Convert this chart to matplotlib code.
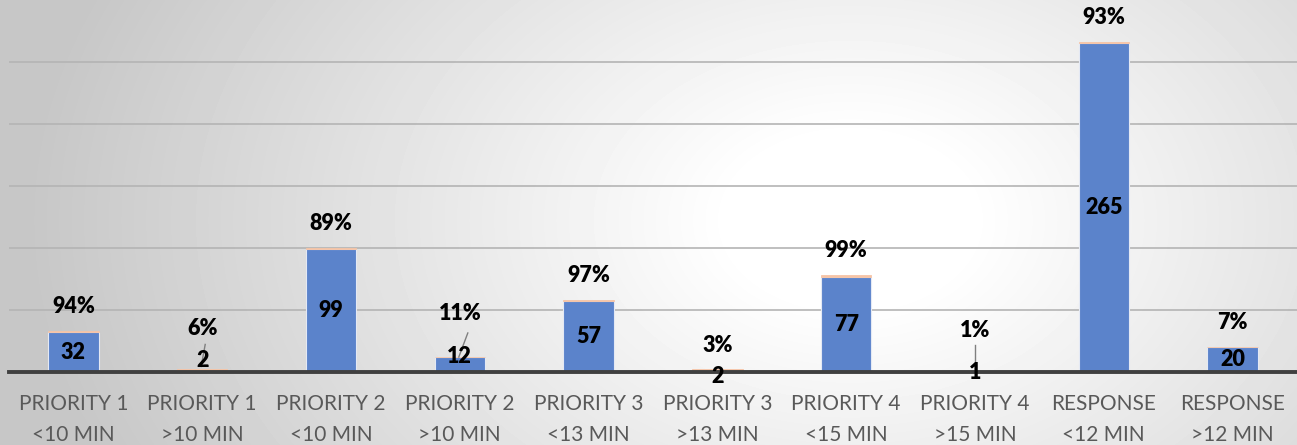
import numpy as np
import matplotlib.pyplot as plt

# chart data
categories = ["PRIORITY 1\n<10 MIN", "PRIORITY 1\n>10 MIN", "PRIORITY 2\n<10 MIN", "PRIORITY 2\n>10 MIN",
              "PRIORITY 3\n<13 MIN", "PRIORITY 3\n>13 MIN", "PRIORITY 4\n<15 MIN", "PRIORITY 4\n>15 MIN",
              "RESPONSE\n<12 MIN", "RESPONSE\n>12 MIN"]
counts = [32, 2, 99, 12, 57, 2, 77, 1, 265, 20]
percents = [94, 6, 89, 11, 97, 3, 99, 1, 93, 7]

plt.rcParams['font.family'] = ['Lato', 'DejaVu Sans']

fig = plt.figure(figsize=(12.97, 4.45), dpi=100)

# radial grey background
bg = fig.add_axes([0, 0, 1, 1])
yy, xx = np.mgrid[0:445, 0:1297]
d = np.sqrt(((xx - 850) / 1.0) ** 2 + ((yy - 220) / 0.7) ** 2)
shade = 1.0 - np.clip((d - 120) / 700, 0, 1) * 0.22
bg.imshow(shade, cmap='gray', vmin=0, vmax=1, aspect='auto', interpolation='bilinear')
bg.axis('off')

ax = fig.add_axes([9 / 1297, 73 / 445, 1 - 9 / 1297, 1 - 73 / 445])
ax.set_facecolor('none')

x = np.arange(len(categories))
pct_frac = [p / 100 for p in percents]
w = 0.39
ax.bar(x, counts, width=w, color='#5b83cb', edgecolor='#e4e9f4', linewidth=0.8, zorder=3)
ax.bar(x, pct_frac, bottom=counts, width=w, color='#f6c4a6', edgecolor='#f6c4a6', linewidth=0.6, zorder=3)

ax.set_ylim(0, 300)
ax.set_xlim(-0.5, len(categories) - 0.5)
ax.set_yticks([50, 100, 150, 200, 250])
ax.yaxis.grid(True, color='#b4b4b4', linewidth=1.2, zorder=0)
ax.set_yticklabels([])
ax.tick_params(axis='y', length=0)
ax.axhline(0, color='#404040', linewidth=2.8, zorder=4, clip_on=False)
for s in ax.spines.values():
    s.set_visible(False)

ax.set_xticks(x)
ax.set_xticklabels(categories, color='#595959', fontsize=15, linespacing=1.65)
ax.tick_params(axis='x', length=0, pad=16)

# count labels: centred in bar, small ones nudged (pixels)
count_shift = [0, 10, 0, 8, 0, -6, 0, -1, 0, 0]
for i, c in enumerate(counts):
    ax.annotate(str(c), (x[i], c / 2), xytext=(0, count_shift[i] * 0.72), textcoords='offset points',
                ha='center', va='center', fontsize=15.5, fontweight='heavy', zorder=6)

# percent labels above the bar (pixels above bar top)
pct_shift = [25, 41, 25, 43, 25, 24, 25, 40, 25, 25]
for i, p in enumerate(percents):
    top = counts[i] + pct_frac[i]
    ax.annotate(f"{p}%", (x[i], top), xytext=(0, pct_shift[i] * 0.72), textcoords='offset points',
                ha='center', va='center', fontsize=15.5, fontweight='heavy', zorder=6)

# leader lines for the small bars (pixel offsets from bar top)
leaders = {1: (3, 25, -1, 3), 3: (8, 24, -1, 0), 7: (0, 26, 0, 2)}
for i, (dx, y0, dx1, y1) in leaders.items():
    top = counts[i] + pct_frac[i]
    ax.plot([x[i] + dx / 128.8, x[i] + dx1 / 128.8],
            [top + y0 / 1.24, top + y1 / 1.24], color='#7f7f7f', lw=1.0, zorder=5)

fig.savefig("out.png", dpi=100)
